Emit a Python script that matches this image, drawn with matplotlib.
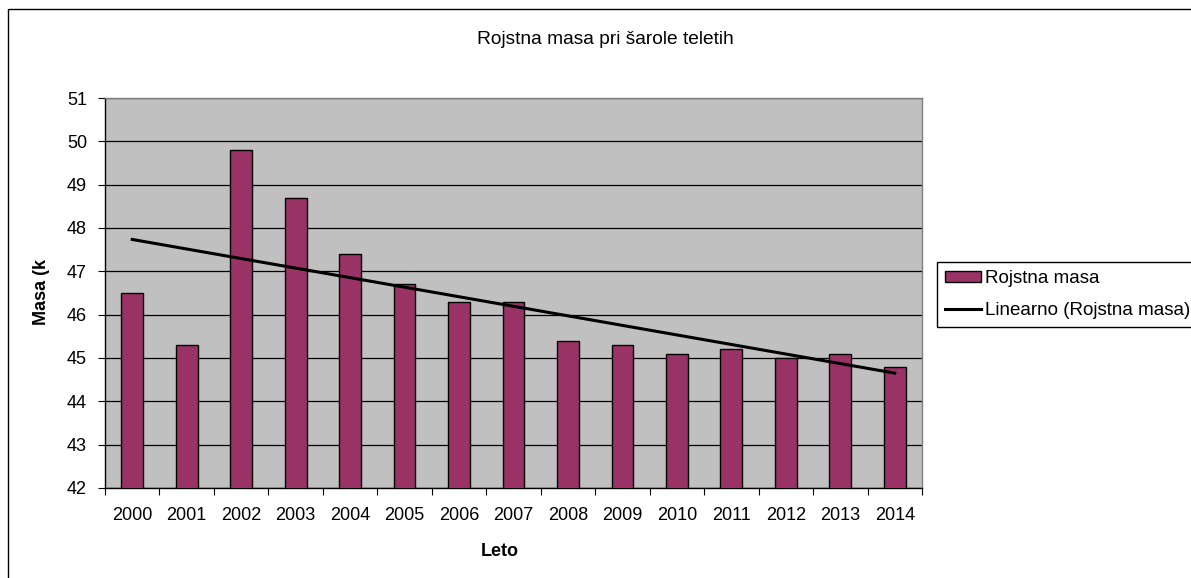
import matplotlib
matplotlib.use("Agg")
import matplotlib.pyplot as plt
from matplotlib.patches import Rectangle
from matplotlib.lines import Line2D
import numpy as np

years = ["2000", "2001", "2002", "2003", "2004", "2005", "2006", "2007",
         "2008", "2009", "2010", "2011", "2012", "2013", "2014"]
mass = [46.5, 45.3, 49.8, 48.7, 47.4, 46.7, 46.3, 46.3,
        45.4, 45.3, 45.1, 45.2, 45.0, 45.1, 44.8]
yticks = [42, 43, 44, 45, 46, 47, 48, 49, 50, 51]

title = "Rojstna masa pri šarole teletih"
series_name = "Rojstna masa"
trend_name = "Linearno (Rojstna masa)"

plt.rcParams['font.family'] = ['Liberation Sans', 'DejaVu Sans']
FS = 13

W, H = 1191, 578
fig = plt.figure(figsize=(W / 100, H / 100), dpi=100)
ax = fig.add_axes([105 / W, 1 - 488 / H, (922 - 105) / W, (488 - 98) / H])

x = np.arange(len(years))
ax.set_facecolor('#C0C0C0')
ax.bar(x, mass, width=0.4, color='#993366', edgecolor='black', linewidth=1.0, zorder=3)

coef = np.polyfit(x, mass, 1)
ax.plot([x[0], x[-1]], np.polyval(coef, [x[0], x[-1]]), color='black', lw=2.2, zorder=4)

ax.set_ylim(42, 51)
ax.set_xlim(-0.5, len(years) - 0.5)
ax.set_yticks(yticks)
ax.set_yticklabels([str(t) for t in yticks], fontsize=FS)
ax.yaxis.grid(True, color='black', lw=0.9, zorder=1)
ax.set_axisbelow(True)

ax.set_xticks(np.arange(-0.5, len(years), 1.0))
ax.set_xticklabels([])
ax.set_xticks(x, minor=True)
ax.set_xticklabels(years, minor=True, fontsize=FS)
ax.tick_params(axis='x', which='minor', length=0, pad=14)
ax.tick_params(axis='x', which='major', length=5, direction='out', color='black')
ax.tick_params(axis='y', length=5, direction='out', pad=8)

for side in ['left', 'bottom']:
    ax.spines[side].set_color('black')
    ax.spines[side].set_linewidth(1.0)
for side in ['top', 'right']:
    ax.spines[side].set_color('#808080')
    ax.spines[side].set_linewidth(1.0)

fig.text(42 / W, 1 - 292 / H, "Masa (k", rotation=90, fontsize=FS, fontweight='bold',
         ha='center', va='center')
fig.text(500 / W, 1 - 552 / H, "Leto", fontsize=FS, fontweight='bold', ha='center', va='center')
fig.text(605 / W, 1 - 39 / H, title, fontsize=13.75, ha='center', va='center')

fig.patches.append(Rectangle((8 / W, -0.1), 1.2, 1 - 9 / H + 0.1, transform=fig.transFigure,
                             fill=False, edgecolor='black', lw=1.0))

handles = [Rectangle((0, 0), 1, 1, facecolor='#993366', edgecolor='black', lw=1.0),
           Line2D([0], [0], color='black', lw=2.2)]
leg = fig.legend(handles, [series_name, trend_name], loc='upper left',
                 bbox_to_anchor=(937 / W, 1 - 262 / H), fontsize=13.5, frameon=True,
                 fancybox=False, edgecolor='black', framealpha=1, borderaxespad=0,
                 handlelength=1.9, handleheight=0.5, handletextpad=0.2,
                 labelspacing=0.75, borderpad=0.45)
leg.get_frame().set_linewidth(1.0)

fig.savefig("out.png", dpi=100)
